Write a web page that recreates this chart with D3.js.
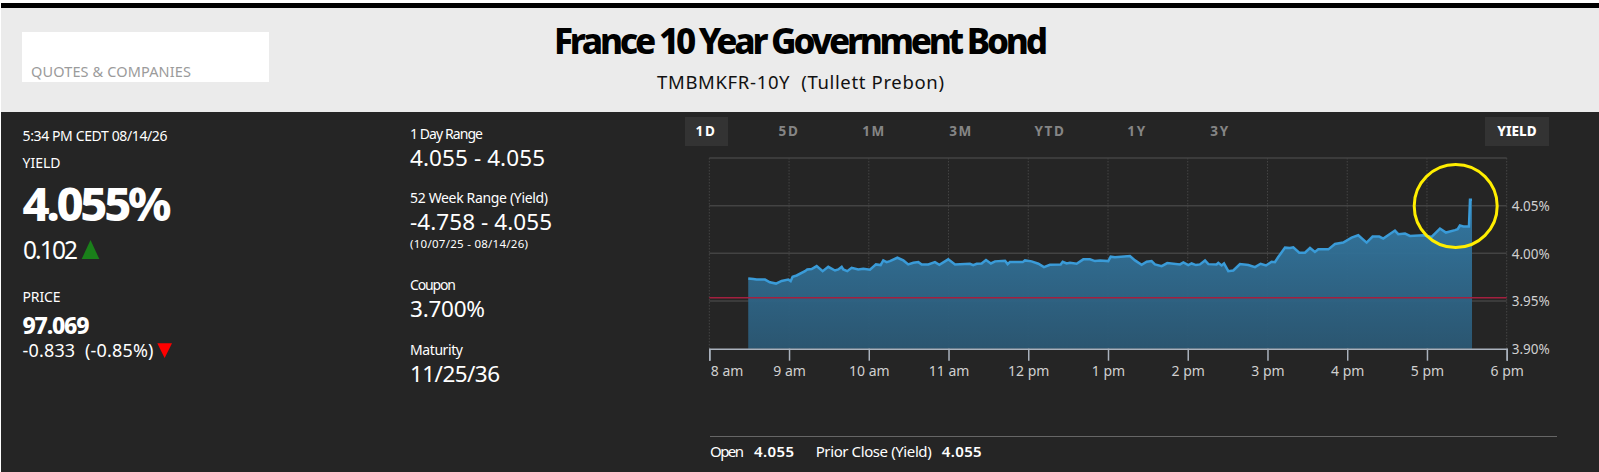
<!DOCTYPE html>
<html>
<head>
<meta charset="utf-8">
<script src="https://cdn.jsdelivr.net/npm/d3@7"></script>
<style>
  html, body { margin: 0; padding: 0; background: #fff; overflow: hidden; }
  svg { display: block; font-family: "Noto Sans", sans-serif; }
</style>
</head>
<body>
<div id="chart"></div>
<script>
// minutes after 8 am
const minutes = [29.3,33.1,35.6,41.9,45.6,50.2,54.4,59.4,61.2,62.7,65.7,72.0,73.7,77.0,80.8,85.3,89.5,94.6,97.1,99.6,100.8,103.8,107.1,112.1,115.9,120.9,125.4,128.9,130.9,133.4,135.9,141.5,146.0,149.7,153.5,157.3,159.8,164.8,169.8,173.1,179.8,184.9,196.1,198.6,201.2,204.9,208.2,211.9,215.0,222.5,224.5,226.2,235.8,237.5,242.5,247.6,251.8,256.3,264.4,265.9,268.9,271.4,276.4,281.4,286.4,290.2,294.0,300.2,302.0,305.2,316.5,320.3,325.3,329.1,332.8,335.3,340.4,344.6,354.2,356.7,360.4,362.9,366.2,369.2,373.0,375.5,381.7,383.0,385.5,387.3,390.5,394.3,399.3,405.6,410.6,414.8,418.9,423.1,425.6,428.1,433.2,436.9,439.4,443.9,448.2,452.0,455.7,458.2,465.8,470.8,477.0,483.3,488.3,494.6,499.1,504.1,507.1,515.9,518.4,523.5,527.2,537.2,543.5,549.8,554.3,561.1,563.1,564.8,567.4,571.6,572.4,573.9];
const yields = [3.9736,3.9732,3.9725,3.9725,3.9697,3.9683,3.9711,3.9725,3.9708,3.9754,3.9768,3.9813,3.9831,3.9835,3.9866,3.9813,3.9859,3.9820,3.9831,3.9859,3.9831,3.9813,3.9849,3.9831,3.9838,3.9828,3.9884,3.9877,3.9926,3.9908,3.9919,3.9954,3.9926,3.9884,3.9901,3.9908,3.9884,3.9884,3.9908,3.9880,3.9937,3.9884,3.9891,3.9877,3.9891,3.9894,3.9930,3.9894,3.9916,3.9923,3.9887,3.9908,3.9908,3.9926,3.9916,3.9891,3.9856,3.9880,3.9884,3.9912,3.9894,3.9901,3.9891,3.9937,3.9937,3.9919,3.9926,3.9919,3.9965,3.9958,3.9972,3.9926,3.9880,3.9912,3.9919,3.9884,3.9866,3.9898,3.9884,3.9905,3.9877,3.9894,3.9877,3.9884,3.9926,3.9887,3.9884,3.9901,3.9873,3.9894,3.9813,3.9820,3.9887,3.9877,3.9856,3.9891,3.9873,3.9912,3.9908,3.9961,4.0060,4.0056,4.0063,4.0007,4.0007,4.0056,4.0014,4.0042,4.0042,4.0099,4.0113,4.0165,4.0190,4.0113,4.0176,4.0176,4.0155,4.0239,4.0201,4.0208,4.0183,4.0190,4.0172,4.0260,4.0218,4.0243,4.0253,4.0292,4.0282,4.0282,4.0563,4.0563];
const priorClose = 3.9535;
const hourLabels = ["8 am","9 am","10 am","11 am","12 pm","1 pm","2 pm","3 pm","4 pm","5 pm","6 pm"];
const yieldTicks = [3.90, 3.95, 4.00, 4.05];
const rangeTabs = ["1D","5D","1M","3M","YTD","1Y","3Y"];

const width = 1599, height = 472;
const x = d3.scaleLinear().domain([0, 600]).range([709.3, 1506.7]);
const y = d3.scaleLinear().domain([3.90, 4.10]).range([348.7, 158]);
const hourTicks = hourLabels.map((d, i) => i * 60);

const svg = d3.select("#chart").append("svg")
  .attr("width", width)
  .attr("height", height);

function label(px, py, str, size, fill, opts = {}) {
  const t = svg.append("text")
    .attr("x", px)
    .attr("y", py)
    .attr("font-size", size)
    .attr("fill", fill)
    .attr("font-weight", opts.weight || 400)
    .attr("text-anchor", opts.anchor || "start")
    .text(str);
  if (opts.len) t.attr("textLength", opts.len);
  return t;
}

// page blocks
svg.append("rect").attr("x", 1).attr("y", 3).attr("width", width).attr("height", 5).attr("fill", "#000");
svg.append("rect").attr("x", 1).attr("y", 8).attr("width", width).attr("height", 104).attr("fill", "#ebebeb");
svg.append("rect").attr("x", 1).attr("y", 112).attr("width", width).attr("height", height - 112).attr("fill", "#252525");
svg.append("rect").attr("x", 22).attr("y", 32).attr("width", 247).attr("height", 50).attr("fill", "#fff");

// header
label(31, 76.5, "QUOTES & COMPANIES", 14.5, "#9b9b9b", { len: 160 });
label(554, 54.3, "France 10 Year Government Bond", 35, "#000", { weight: 800, len: 494 });
label(657, 89, "TMBMKFR-10Y\u00a0\u00a0(Tullett Prebon)", 18.5, "#111", { len: 287 });

// left column
label(22.5, 141, "5:34 PM CEDT 08/14/26", 14, "#fff", { len: 145 });
label(22.5, 168, "YIELD", 14, "#fff", { len: 38 });
label(22.5, 220.6, "4.055%", 47, "#fff", { weight: 800, len: 149 });
label(23, 259.3, "0.102", 24.5, "#fff", { len: 55 });
label(22.5, 302, "PRICE", 14, "#fff", { len: 38 });
label(22.5, 334.3, "97.069", 23, "#fff", { weight: 800, len: 67 });
label(22.5, 357.3, "-0.833\u00a0\u00a0(-0.85%)", 18, "#fff", { len: 131 });

svg.append("path").attr("d", "M81.7,259 L90.5,240 L99.3,259 Z").attr("fill", "#1a801a");
svg.append("path").attr("d", "M157.3,343.3 L172,343.3 L164.6,358 Z").attr("fill", "#f00");

// middle column
label(410, 139, "1 Day Range", 14, "#fff", { len: 73 });
label(410, 165.7, "4.055 - 4.055", 22.5, "#fff", { len: 135 });
label(410, 203, "52 Week Range (Yield)", 14, "#fff", { len: 138 });
label(410, 230, "-4.758 - 4.055", 22.5, "#fff", { len: 142 });
label(410, 247.7, "(10/07/25 - 08/14/26)", 11.5, "#fff", { len: 118 });
label(410, 290, "Coupon", 14, "#fff", { len: 46 });
label(410, 317, "3.700%", 22.5, "#fff", { len: 75 });
label(410, 355, "Maturity", 14, "#fff", { len: 53 });
label(410, 382, "11/25/36", 22.5, "#fff", { len: 90 });

// range tabs
svg.append("rect").attr("x", 685).attr("y", 117).attr("width", 43).attr("height", 29).attr("fill", "#333");
svg.append("rect").attr("x", 1485).attr("y", 117).attr("width", 64).attr("height", 29).attr("fill", "#333");
const tabX = d3.scaleOrdinal().domain(rangeTabs).range([706, 789, 874, 961, 1050, 1137, 1220]);
svg.append("g").selectAll("text")
  .data(rangeTabs)
  .join("text")
  .attr("x", d => tabX(d))
  .attr("y", 135.7)
  .attr("text-anchor", "middle")
  .attr("font-size", 13.5)
  .attr("font-weight", 700)
  .attr("letter-spacing", 1.6)
  .attr("fill", (d, i) => i === 0 ? "#fff" : "#858585")
  .text(d => d);
label(1517, 135.7, "YIELD", 13.5, "#fff", { weight: 800, anchor: "middle" });

// grid
const grid = svg.append("g");
grid.selectAll(".v")
  .data(hourTicks)
  .join("line")
  .attr("class", "v")
  .attr("x1", d => x(d)).attr("x2", d => x(d))
  .attr("y1", y(4.10)).attr("y2", y(3.90))
  .attr("stroke", "#444")
  .attr("stroke-dasharray", "1.5,1.5");
grid.selectAll(".h")
  .data(yieldTicks.slice(1).concat([4.10]))
  .join("line")
  .attr("class", "h")
  .attr("x1", x(0)).attr("x2", x(600))
  .attr("y1", d => y(d)).attr("y2", d => y(d))
  .attr("stroke", "#434343")
  .attr("stroke-width", 1.5);

// area and line
const defs = svg.append("defs");
const grad = defs.append("linearGradient")
  .attr("id", "areaFill")
  .attr("x1", 0).attr("y1", 0).attr("x2", 0).attr("y2", 1);
grad.append("stop").attr("offset", "0%").attr("stop-color", "#347ca8").attr("stop-opacity", 0.95);
grad.append("stop").attr("offset", "100%").attr("stop-color", "#2b5874").attr("stop-opacity", 0.95);

const series = minutes.map((m, i) => [m, yields[i]]);
svg.append("path")
  .datum(series)
  .attr("fill", "url(#areaFill)")
  .attr("d", d3.area().x(d => x(d[0])).y0(y(3.90)).y1(d => y(d[1])));
svg.append("path")
  .datum(series)
  .attr("fill", "none")
  .attr("stroke", "#3a9bd8")
  .attr("stroke-width", 2.5)
  .attr("d", d3.line().x(d => x(d[0])).y(d => y(d[1])));

// prior close
svg.append("line")
  .attr("x1", x(0)).attr("x2", x(600))
  .attr("y1", y(priorClose)).attr("y2", y(priorClose))
  .attr("stroke", "#a3203f")
  .attr("stroke-width", 1.5);

// axes
const xAxis = svg.append("g")
  .attr("transform", `translate(0,${y(3.90)})`)
  .call(d3.axisBottom(x).tickValues(hourTicks).tickSize(12).tickPadding(5)
    .tickFormat((d, i) => hourLabels[i]));
xAxis.select(".domain").attr("stroke", "#aab2bd").attr("stroke-width", 1.5);
xAxis.selectAll(".tick line").attr("stroke", "#aab2bd").attr("stroke-width", 1.5);
xAxis.selectAll("text")
  .attr("font-size", 14)
  .attr("font-family", "\"Noto Sans\", sans-serif")
  .attr("fill", "#d0d0d0");
xAxis.selectAll(".tick:first-of-type text").attr("text-anchor", "start").attr("dx", 1);

const yAxis = svg.append("g")
  .attr("transform", `translate(${x(600)},0)`)
  .call(d3.axisRight(y).tickValues(yieldTicks).tickSize(0).tickPadding(5)
    .tickFormat(d => d3.format(".2f")(d) + "%"));
yAxis.select(".domain").remove();
yAxis.selectAll("text")
  .attr("font-size", 13.5)
  .attr("font-family", "\"Noto Sans\", sans-serif")
  .attr("fill", "#d0d0d0")
  .attr("dy", "0.36em");

// highlight circle
svg.append("circle")
  .attr("cx", 1455.7)
  .attr("cy", 206)
  .attr("r", 41.5)
  .attr("fill", "none")
  .attr("stroke", "#ffee00")
  .attr("stroke-width", 3);

// footer
svg.append("line")
  .attr("x1", 710).attr("x2", 1557)
  .attr("y1", 436.5).attr("y2", 436.5)
  .attr("stroke", "#666");
label(710, 457.3, "Open", 15, "#fff", { len: 34 });
label(754, 457.3, "4.055", 15, "#fff", { weight: 600, len: 40 });
label(815.7, 457.3, "Prior Close (Yield)", 15, "#fff", { len: 116 });
label(941.7, 457.3, "4.055", 15, "#fff", { weight: 600, len: 40 });
</script>
</body>
</html>
